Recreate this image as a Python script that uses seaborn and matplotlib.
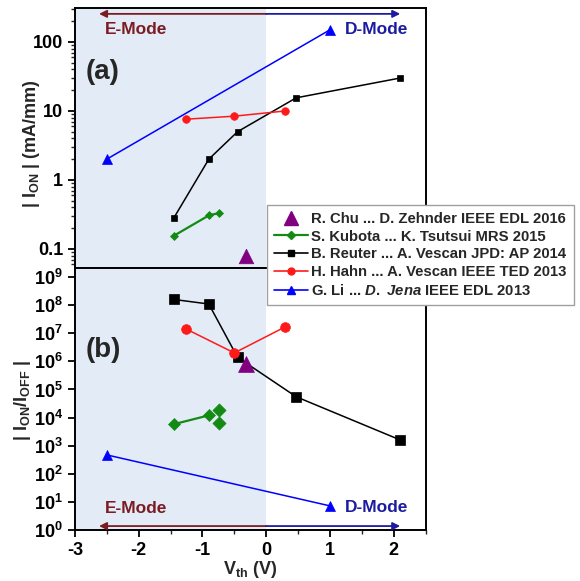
import numpy as np
import pandas as pd
import matplotlib
matplotlib.use("Agg")
import matplotlib.pyplot as plt
import seaborn as sns
from matplotlib.lines import Line2D
from matplotlib.ticker import FixedLocator, FuncFormatter, MultipleLocator, LogLocator, NullFormatter

sns.set_theme(style="ticks")
plt.rcParams['font.family'] = ['Liberation Sans', 'DejaVu Sans']
plt.rcParams['font.weight'] = 'bold'
plt.rcParams['mathtext.fontset'] = 'custom'
plt.rcParams['mathtext.rm'] = 'Liberation Sans:bold'
plt.rcParams['mathtext.it'] = 'Liberation Sans:italic:bold'
plt.rcParams['mathtext.bf'] = 'Liberation Sans:bold'
plt.rcParams['mathtext.default'] = 'rm'

# ---- data: panel (a) |I_ON| (mA/mm) ----
li_vth = [-2.5, 1.0]
li_ion = [2.0, 150.0]
reuter_vth = [-1.45, -0.9, -0.45, 0.47, 2.1]
reuter_ion = [0.28, 2.0, 5.0, 15.5, 30.0]
hahn_vth = [-1.25, -0.5, 0.3]
hahn_ion = [7.6, 8.4, 10.0]
kubota_vth = [-1.45, -0.89, -0.74]
kubota_ion = [0.155, 0.31, 0.33]
chu_vth = [-0.32]
chu_ion = [0.08]

# ---- data: panel (b) |I_ON/I_OFF| ----
li_ratio = [470.0, 7.2]
reuter_ratio = [1.6e8, 1.1e8, 1.4e6, 5.5e4, 1.6e3]
hahn_ratio = [1.4e7, 2.0e6, 1.7e7]
kubota_line_vth = [-1.45, -0.9]
kubota_line_ratio = [5.8e3, 1.2e4]
kubota_pts_vth = [-0.74, -0.74]
kubota_pts_ratio = [1.9e4, 6.6e3]
chu_ratio = [8.0e5]

legend_labels = [
    "R. Chu ... D. Zehnder IEEE EDL 2016",
    "S. Kubota ... K. Tsutsui MRS 2015",
    "B. Reuter ... A. Vescan JPD: AP 2014",
    "H. Hahn ... A. Vescan IEEE TED 2013",
    "G. Li ... $\\it{D.\\ Jena}$ IEEE EDL 2013",
]

C_BLUE = "#0000ff"
C_RED = "#ff1a1a"
C_GREEN = "#138a13"
C_BLACK = "#000000"
C_PURPLE = "#800080"
C_EDARK = "#7a1c22"
C_DDARK = "#1c1ca0"
SHADE = "#e2ebf6"

fig = plt.figure(figsize=(5.8, 5.81), dpi=100)
ax1 = fig.add_axes([0.129, 0.5387, 0.605, 0.4475])
ax2 = fig.add_axes([0.129, 0.0878, 0.605, 0.4509])

def line(ax, x, y, color, marker, ms, lw=1.1):
    df = pd.DataFrame({"x": x, "y": y})
    sns.lineplot(data=df, x="x", y="y", ax=ax, sort=False, estimator=None,
                 color=color, marker=marker, markersize=ms, lw=lw,
                 markeredgecolor=color, markeredgewidth=0.5)

def pts(ax, x, y, color, marker, s):
    df = pd.DataFrame({"x": x, "y": y})
    sns.scatterplot(data=df, x="x", y="y", ax=ax, color=color, marker=marker,
                    s=s, edgecolor=color, linewidth=0.5, zorder=5)

for ax in (ax1, ax2):
    ax.axvspan(-3, 0, color=SHADE, zorder=0, lw=0)
    ax.set_yscale("log")
    ax.set_xlim(-3, 2.5)

# panel (a)
line(ax1, li_vth, li_ion, C_BLUE, "^", 7)
line(ax1, reuter_vth, reuter_ion, C_BLACK, "s", 5)
line(ax1, hahn_vth, hahn_ion, C_RED, "o", 5.5)
line(ax1, kubota_vth, kubota_ion, C_GREEN, "D", 4.5, lw=1.6)
pts(ax1, chu_vth, chu_ion, C_PURPLE, "^", 110)
ax1.set_ylim(0.053, 310)

# panel (b)
line(ax2, li_vth, li_ratio, C_BLUE, "^", 7)
line(ax2, reuter_vth, reuter_ratio, C_BLACK, "s", 6.5)
line(ax2, hahn_vth, hahn_ratio, C_RED, "o", 7)
line(ax2, kubota_line_vth, kubota_line_ratio, C_GREEN, "D", 6.5, lw=1.6)
pts(ax2, kubota_pts_vth, kubota_pts_ratio, C_GREEN, "D", 45)
pts(ax2, chu_vth, chu_ratio, C_PURPLE, "^", 130)
ax2.set_ylim(1, 2.1e9)

# arrows and mode labels
def arrows(ax, y):
    ax.annotate("", xy=(-2.62, y), xytext=(0, y),
                arrowprops=dict(arrowstyle="-|>", color=C_EDARK, lw=1.3,
                                mutation_scale=11, shrinkA=0, shrinkB=0))
    ax.annotate("", xy=(2.1, y), xytext=(0, y),
                arrowprops=dict(arrowstyle="-|>", color=C_DDARK, lw=1.3,
                                mutation_scale=11, shrinkA=0, shrinkB=0))

arrows(ax1, 255)
arrows(ax2, 1.38)
ax1.text(-2.53, 150, "E-Mode", color=C_EDARK, fontsize=12.5, fontweight="bold", va="center")
ax1.text(1.23, 150, "D-Mode", color=C_DDARK, fontsize=12.5, fontweight="bold", va="center")
ax2.text(-2.53, 6.0, "E-Mode", color=C_EDARK, fontsize=12.5, fontweight="bold", va="center")
ax2.text(1.23, 6.5, "D-Mode", color=C_DDARK, fontsize=12.5, fontweight="bold", va="center")

ax1.text(-2.83, 37, "(a)", fontsize=20, fontweight="bold", va="center")
ax2.text(-2.83, 2.5e6, "(b)", fontsize=20, fontweight="bold", va="center")

# axes formatting
ax1.yaxis.set_major_locator(FixedLocator([0.1, 1, 10, 100]))
ax1.yaxis.set_major_formatter(FuncFormatter(lambda v, p: {0.1: "0.1", 1: "1", 10: "10", 100: "100"}.get(round(v, 3), "")))
ax1.yaxis.set_minor_locator(LogLocator(base=10, subs=np.arange(2, 10)))
ax1.yaxis.set_minor_formatter(NullFormatter())

ax2.yaxis.set_major_locator(FixedLocator([10.0 ** k for k in range(10)]))
ax2.yaxis.set_major_formatter(FuncFormatter(lambda v, p: "10$^{%d}$" % int(round(np.log10(v)))))
ax2.yaxis.set_minor_locator(FixedLocator([]))

for ax in (ax1, ax2):
    ax.xaxis.set_major_locator(MultipleLocator(1))
    ax.xaxis.set_minor_locator(MultipleLocator(0.5))
    ax.tick_params(axis="both", which="major", direction="out", length=5, width=1.3,
                   labelsize=13, colors="black")
    ax.tick_params(axis="both", which="minor", direction="out", length=3, width=1.0)
    for s in ax.spines.values():
        s.set_linewidth(1.4)
        s.set_color("black")
    ax.set_xlabel("")
    ax.set_ylabel("")
    for lab in ax.get_xticklabels() + ax.get_yticklabels():
        lab.set_fontweight("bold")

ax1.tick_params(axis="x", labelbottom=False)
ax2.set_xticks([-3, -2, -1, 0, 1, 2])
ax2.set_xticklabels(["-3", "-2", "-1", "0", "1", "2"], fontweight="bold")

ax1.set_ylabel("| I$_{\\rm ON}$ | (mA/mm)", fontsize=13, fontweight="bold")
ax2.set_ylabel("| I$_{\\rm ON}$/I$_{\\rm OFF}$ |", fontsize=13, fontweight="bold")
ax1.yaxis.set_label_coords(-0.094, 0.477)
ax2.yaxis.set_label_coords(-0.12, 0.496)
ax2.set_xlabel("V$_{\\rm th}$ (V)", fontsize=13, fontweight="bold", labelpad=0)

# legend
handles = [
    Line2D([], [], ls="none", marker="^", color=C_PURPLE, markersize=10),
    Line2D([], [], color=C_GREEN, marker="D", markersize=4, lw=1.6),
    Line2D([], [], color=C_BLACK, marker="s", markersize=4, lw=1.2),
    Line2D([], [], color=C_RED, marker="o", markersize=5, lw=1.2),
    Line2D([], [], color=C_BLUE, marker="^", markersize=6, lw=1.2),
]
leg = fig.legend(handles, legend_labels, loc="upper left", bbox_to_anchor=(0.46, 0.648),
                 fontsize=10.7, frameon=True, fancybox=False, framealpha=1,
                 edgecolor="#a0a0a0", handlelength=2.3, handletextpad=0.2,
                 labelspacing=0.25, borderpad=0.5, borderaxespad=0)
leg.get_frame().set_linewidth(1.0)
for t in leg.get_texts():
    t.set_fontweight("bold")
leg.set_zorder(20)

fig.savefig("out.png", dpi=100)
